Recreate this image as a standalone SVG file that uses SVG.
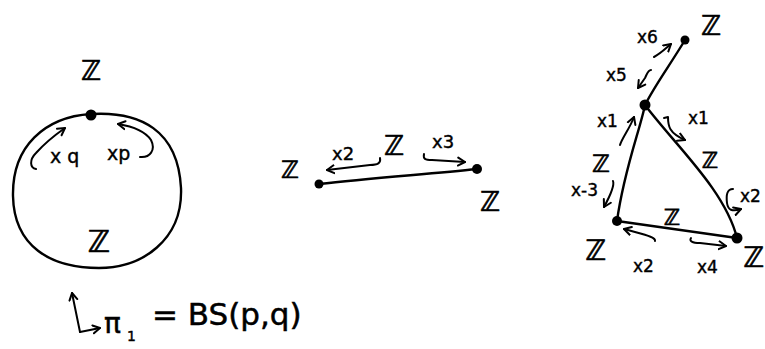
<svg xmlns="http://www.w3.org/2000/svg" width="765" height="349" viewBox="0 0 765 349">
<style>
.s{fill:none;stroke:#000;stroke-width:2.4;stroke-linecap:round;stroke-linejoin:round}
.a{fill:none;stroke:#000;stroke-width:2;stroke-linecap:round;stroke-linejoin:round;marker-end:url(#ah)}
.d{fill:#000}
text{font-family:"DejaVu Sans",sans-serif;fill:#000}
.z{text-anchor:middle;font-size:27px;stroke:#000;stroke-width:0.7}
.l{font-size:18px;stroke:#000;stroke-width:0.4}
</style>
<defs>
<marker id="ah" markerUnits="userSpaceOnUse" markerWidth="12" markerHeight="12" refX="8" refY="5" orient="auto" viewBox="0 0 12 10">
<path d="M1,1 L8,5 L1,9" fill="none" stroke="#000" stroke-width="2" stroke-linecap="round" stroke-linejoin="round"/>
</marker>
</defs>
<g id="connectors">
<path class="s" d="M91 114 C140 111,178 130,181 188 C183 240,142 268,99 268 C50 268,14 246,13 196 C12 146,45 117,91 114 Z"/>
<path class="s" d="M319 184 C370 178,430 174,477 169"/>
<path class="s" d="M645 105 C655 85,670 65,685 40"/>
<path class="s" d="M645 105 C640 130,624 170,617 221"/>
<path class="s" d="M645 105 C675 145,725 190,737 238"/>
<path class="s" d="M617 221 C660 227,700 233,737 238"/>
</g>
<g id="annotations">
<path class="a" d="M36 169 C30 168,29 160,36 153 C44 144,55 135,65 128"/>
<path class="a" d="M140 157 C150 158,156 150,151 140 C145 131,130 126,118 124"/>
<path class="a" d="M80 332 L72 293"/>
<path class="a" d="M80 332 L100 328"/>
<path class="a" d="M380 158 C381 163,378 165,370 165 L327 170"/>
<path class="a" d="M424 154 C423 159,425 160,432 160 L465 162"/>
<path class="a" d="M654 57 C660 54,664 50,671 44"/>
<path class="a" d="M651 70 C648 70,647 74,645 78 L638 88"/>
<path class="a" d="M620 145 C622 138,630 128,634 117"/>
<path class="a" d="M664 118 L668 117 C668 126,669 133,685 140"/>
<path class="a" d="M613 181 C615 186,610 196,604 207"/>
<path class="a" d="M733 189 C727 189,726 195,727 203 C728 210,732 212,741 209"/>
<path class="a" d="M655 241 C656 237,645 235,624 229"/>
<path class="a" d="M691 238 C689 241,692 243,700 243 L726 246"/>
</g>
<g id="node-circle">
<circle class="d" cx="91" cy="115" r="5.5"/>
<text class="z" x="91" y="80">ℤ</text>
<text class="z" x="99" y="252" style="font-size:30px">ℤ</text>
<text class="l" x="50" y="163" style="font-size:19px">x q</text>
<text class="l" x="107" y="160" style="font-size:19px">xp</text>
</g>
<g id="node-formula">
<text x="104" y="333" style="font-size:28px;stroke:#000;stroke-width:0.5">π</text>
<text x="127" y="341" style="font-size:14px;stroke:#000;stroke-width:0.4">1</text>
<text x="152" y="325" style="font-size:31px;stroke:#000;stroke-width:0.5">= BS(p,q)</text>
</g>
<g id="node-mid-left">
<circle class="d" cx="319" cy="184" r="4.5"/>
<text class="z" x="290" y="178" style="font-size:24px">ℤ</text>
</g>
<g id="node-mid-right">
<circle class="d" cx="477" cy="169" r="5"/>
<text class="z" x="490" y="211">ℤ</text>
</g>
<g id="edge-mid-labels">
<text class="z" x="394" y="155">ℤ</text>
<text class="l" x="332" y="160">x2</text>
<text class="l" x="432" y="148">x3</text>
</g>
<g id="node-top">
<circle class="d" cx="685" cy="40" r="4.5"/>
<text class="z" x="711" y="35">ℤ</text>
</g>
<g id="node-apex">
<circle class="d" cx="645" cy="105" r="5.5"/>
</g>
<g id="node-bottom-left">
<circle class="d" cx="617" cy="221" r="5"/>
<text class="z" x="596" y="260" style="font-size:28px">ℤ</text>
</g>
<g id="node-bottom-right">
<circle class="d" cx="737" cy="238" r="5.5"/>
<text class="z" x="754" y="267" style="font-size:28px">ℤ</text>
</g>
<g id="edge-right-labels">
<text class="l" x="637" y="43" style="font-size:17px">x6</text>
<text class="l" x="606" y="81" style="font-size:17px">x5</text>
<text class="l" x="597" y="127" style="font-size:17px">x1</text>
<text class="l" x="688" y="124" style="font-size:17px">x1</text>
<text class="z" x="710" y="168" style="font-size:22px">ℤ</text>
<text class="z" x="601" y="172" style="font-size:24px">ℤ</text>
<text class="l" x="571" y="196" style="font-size:17px">x-3</text>
<text class="l" x="740" y="202" style="font-size:17px">x2</text>
<text class="z" x="672" y="225" style="font-size:22px">ℤ</text>
<text class="l" x="633" y="272" style="font-size:17px">x2</text>
<text class="l" x="697" y="273" style="font-size:17px">x4</text>
</g>
</svg>
